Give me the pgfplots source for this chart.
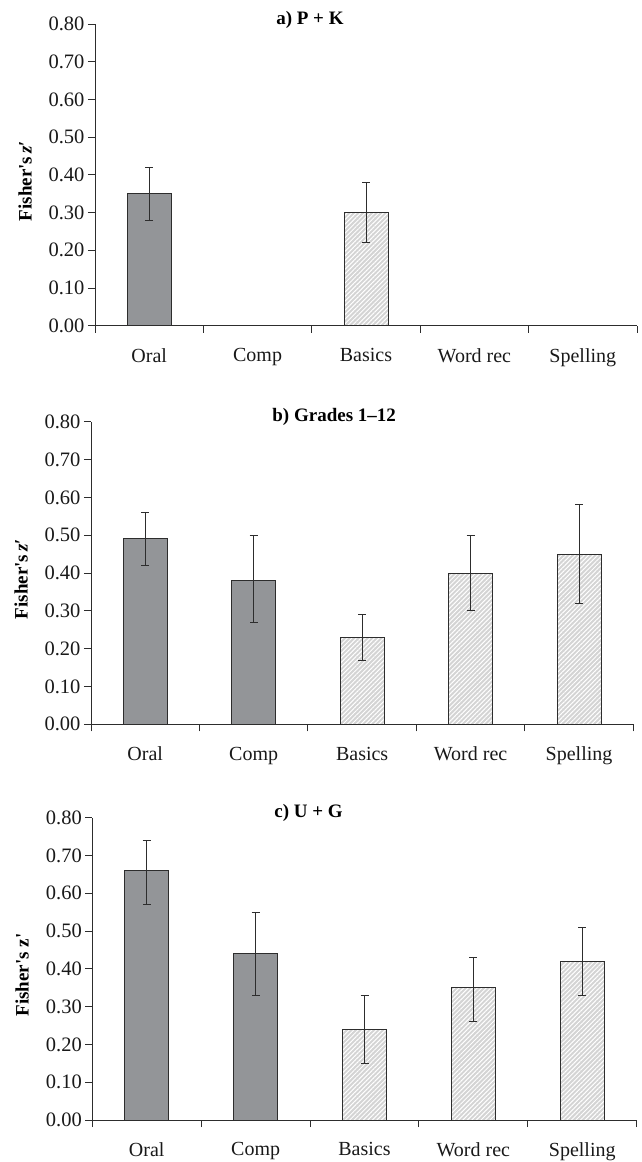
\documentclass[border=0pt]{standalone}
\usepackage{pgfplots}
\pgfplotsset{compat=1.18}
\usepackage{pgfplotstable}
\usetikzlibrary{patterns.meta}
\usepackage{fontspec}
\setmainfont{Liberation Serif}
\definecolor{darkbar}{RGB}{147,149,152}
\definecolor{hatchbg}{RGB}{212,212,212}
\definecolor{edge}{RGB}{45,45,45}

\pgfplotstableread{
x y ep em
0 0.35 0.07 0.07
}\aDark
\pgfplotstableread{
x y ep em
2 0.30 0.08 0.08
}\aHatch
\pgfplotstableread{
x y ep em
0 0.49 0.07 0.07
1 0.38 0.12 0.11
}\bDark
\pgfplotstableread{
x y ep em
2 0.23 0.06 0.06
3 0.40 0.10 0.10
4 0.45 0.13 0.13
}\bHatch
\pgfplotstableread{
x y ep em
0 0.66 0.08 0.09
1 0.44 0.11 0.11
}\cDark
\pgfplotstableread{
x y ep em
2 0.24 0.09 0.09
3 0.35 0.08 0.09
4 0.42 0.09 0.09
}\cHatch

\pgfplotsset{
  panel/.style={
    scale only axis,
    anchor=south west,
    ybar, bar shift=0pt, bar width=44pt,
    xmin=-0.5, xmax=4.5, ymin=0, ymax=0.8,
    axis x line*=bottom, axis y line*=left,
    axis line style={draw=edge, line width=0.9pt},
    xtick={0,1,2,3,4},
    xticklabels={Oral,Comp,Basics,Word rec,Spelling},
    minor xtick={-0.5,0.5,1.5,2.5,3.5,4.5},
    major x tick style={draw=none},
    minor x tick style={draw=edge, line width=0.9pt},
    ytick={0,0.1,...,0.81},
    ytick style={draw=edge, line width=0.9pt},
    tick align=outside,
    major tick length=7pt, minor tick length=7pt,
    ticklabel style={font=\fontsize{20}{22}\selectfont, text=black!90},
    yticklabel style={font=\fontsize{20.5}{22}\selectfont, /pgf/number format/.cd, fixed, fixed zerofill, precision=2},
    /pgf/number format/assume math mode=true,
    xticklabel style={yshift=-12pt},
    every axis y label/.style={at={(axis description cs:-0.129,0.48)}, rotate=90, anchor=center, font=\fontsize{19}{21}\selectfont\bfseries},
    every axis title/.style={at={(axis description cs:0.328,1.0)}, anchor=base west, font=\fontsize{19}{21}\selectfont\bfseries},
    error bars/y dir=both, error bars/y explicit,
    error bars/error bar style={draw=edge, line width=0.9pt},
    error bars/error mark options={draw=edge, line width=0.9pt, mark size=4pt, rotate=90},
  },
  darkbars/.style={draw=edge, line width=1pt, fill=darkbar},
  hatchbars/.style={draw=edge, line width=1pt,
     preaction={fill=hatchbg},
     preaction={pattern={Lines[angle=45,distance=3.2pt,line width=1pt]}, pattern color=white}},
}

\begin{document}
\begin{tikzpicture}
\useasboundingbox (0,0) rectangle (641pt,-1162pt);
% panel a
\begin{axis}[panel, at={(95pt,-325.7pt)}, width=542pt, height=301.7pt,
  title={a) P + K}, ylabel={Fisher\textquotesingle s\,\textit{z}′}]
\addplot[darkbars] table[x=x,y=y,y error plus=ep,y error minus=em]{\aDark};
\addplot[hatchbars] table[x=x,y=y,y error plus=ep,y error minus=em]{\aHatch};
\end{axis}
% panel b
\begin{axis}[panel, at={(91pt,-724.3pt)}, width=542.3pt, height=302.6pt,
  title={b) Grades 1–12}, ylabel={Fisher\textquotesingle s\,\textit{z}′}]
\addplot[darkbars] table[x=x,y=y,y error plus=ep,y error minus=em]{\bDark};
\addplot[hatchbars] table[x=x,y=y,y error plus=ep,y error minus=em]{\bHatch};
\end{axis}
% panel c
\begin{axis}[panel, at={(92.3pt,-1120pt)}, width=544.4pt, height=302.3pt,
  title={c) U + G}, ylabel={Fisher\textquotesingle s z\textquotesingle}]
\addplot[darkbars] table[x=x,y=y,y error plus=ep,y error minus=em]{\cDark};
\addplot[hatchbars] table[x=x,y=y,y error plus=ep,y error minus=em]{\cHatch};
\end{axis}
\end{tikzpicture}
\end{document}
